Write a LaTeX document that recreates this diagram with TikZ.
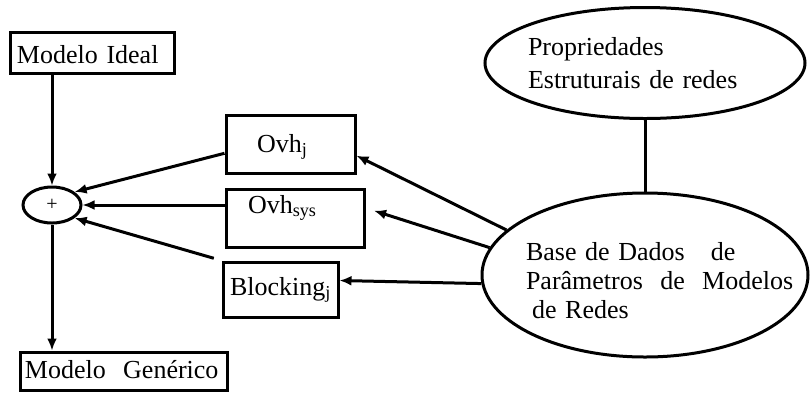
\documentclass[tikz,border=0pt]{standalone}
\usepackage{fontspec}
\setmainfont{Liberation Serif}
\usetikzlibrary{arrows.meta,shapes.geometric}
\tikzstyle{caixa} = [draw, line width=1.5pt, inner ysep=0pt, align=left]
\tikzstyle{balao} = [draw, ellipse, line width=1.5pt, inner sep=0pt]
\tikzstyle{linha} = [line width=1.5pt]
\tikzstyle{seta} = [linha, -{Latex[length=6pt,width=5pt]}]
\tikzset{font={\fontsize{13}{16}\selectfont}}

\begin{document}
\begin{tikzpicture}[x=0.5pt, y=-0.5pt]
  \useasboundingbox (0,0) rectangle (810,393);

  \node[caixa, at={(92,52.5)}, text width=75pt, inner xsep=3.5pt, text height=15.5pt, text depth=5pt] (ideal) {Modelo Ideal};
  \node[balao, at={(52,205)}, minimum width=29pt, minimum height=18pt, font={\fontsize{10}{12}\selectfont}] (soma) {+};
  \node[caixa, at={(123.5,371)}, text width=98.5pt, inner xsep=2.5pt, text height=13pt, text depth=6pt] (generico) {Modelo\ \ Genérico};

  \node[caixa, at={(290.5,144)}, text width=33.5pt, inner xsep=15.5pt, text height=18.5pt, text depth=10.5pt] (ovhj) {Ovh\textsubscript{j}};
  \node[caixa, at={(295,218)}, text width=47pt, inner xsep=11pt, text height=12pt, text depth=17pt] (ovhsys) {Ovh\textsubscript{sys}};
  \node[caixa, at={(280.5,289.5)}, text width=50.5pt, inner xsep=3.5pt, text height=16.5pt, text depth=11pt] (blk) {Blocking\textsubscript{j}};

  \node[balao, at={(645,63)}, minimum width=160pt, minimum height=55.5pt,
    label={[align=left, text width=117pt, font={\fontsize{13}{16.5}\selectfont}]center:Propriedades\\Estruturais de redes}] (prop) {};
  \node[balao, at={(645,275)}, minimum width=163pt, minimum height=82pt,
    label={[align=left, text width=119pt, yshift=-3pt, font={\fontsize{13}{14.5}\selectfont}]center:Base de Dados\ \ \ de\\\mbox{Parâmetros\ \ de\ \ Modelos}\\\hspace*{3pt}de Redes}] (base) {};

  \draw[seta] (ideal.south -| soma.north) -- (soma.north);
  \draw[seta] (soma.south) -- (soma.south |- generico.north);

  \draw[seta] (ovhj.188) -- (soma.30);
  \draw[seta] (ovhsys.west |- soma.east) -- (soma.east);
  \draw[seta, shorten <=4pt] (blk.north west) -- (soma.-30);

  \draw[linha] (prop.south) -- (base.north);
  \draw[seta] (base.162) -- (ovhj.-10);
  \draw[seta, shorten >=4.5pt] (base.170) -- ([yshift=5pt]ovhsys.east);
  \draw[seta] (base.183) -- ([yshift=4.5pt]blk.east);
\end{tikzpicture}
\end{document}
